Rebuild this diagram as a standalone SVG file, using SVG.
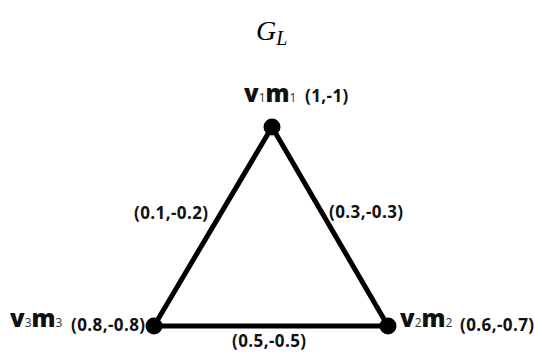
<svg xmlns="http://www.w3.org/2000/svg" width="535" height="353" viewBox="0 0 535 353">
<style>
.title{font-family:"Liberation Serif",serif;font-style:italic;fill:#000}
.big{font-family:"Open Sans",sans-serif;font-weight:800;font-size:24px;fill:#111}
.sub{font-family:"Open Sans",sans-serif;font-size:12px;fill:#333}
.lbl{font-family:"Open Sans",sans-serif;font-weight:bold;font-size:17px;letter-spacing:0.4px;fill:#111}
.edge{stroke:#000;stroke-width:5;fill:none;stroke-linecap:round}
.dot{fill:#000}
</style>
<text class="title" x="256" y="40" font-size="28">G<tspan font-size="20" dy="5">L</tspan></text>
<g id="edges">
<line class="edge" x1="272" y1="127" x2="154" y2="326"/>
<line class="edge" x1="272" y1="127" x2="388" y2="326"/>
<line class="edge" x1="154" y1="326" x2="388" y2="326"/>
<text class="lbl" x="134" y="219">(0.1,-0.2)</text>
<text class="lbl" x="329" y="218">(0.3,-0.3)</text>
<text class="lbl" x="232" y="347">(0.5,-0.5)</text>
</g>
<g id="v1">
<circle class="dot" cx="272" cy="127" r="8.5"/>
<text y="102"><tspan class="big" x="244">v</tspan><tspan class="sub">1</tspan><tspan class="big">m</tspan><tspan class="sub">1</tspan><tspan class="lbl" x="305">(1,-1)</tspan></text>
</g>
<g id="v2">
<circle class="dot" cx="388" cy="326" r="8.5"/>
<text y="327"><tspan class="big" x="400">v</tspan><tspan class="sub">2</tspan><tspan class="big">m</tspan><tspan class="sub">2</tspan><tspan class="lbl" x="460" y="331">(0.6,-0.7)</tspan></text>
</g>
<g id="v3">
<circle class="dot" cx="154" cy="326" r="8.5"/>
<text y="327"><tspan class="big" x="10">v</tspan><tspan class="sub">3</tspan><tspan class="big">m</tspan><tspan class="sub">3</tspan><tspan class="lbl" x="71" y="331">(0.8,-0.8)</tspan></text>
</g>
</svg>
